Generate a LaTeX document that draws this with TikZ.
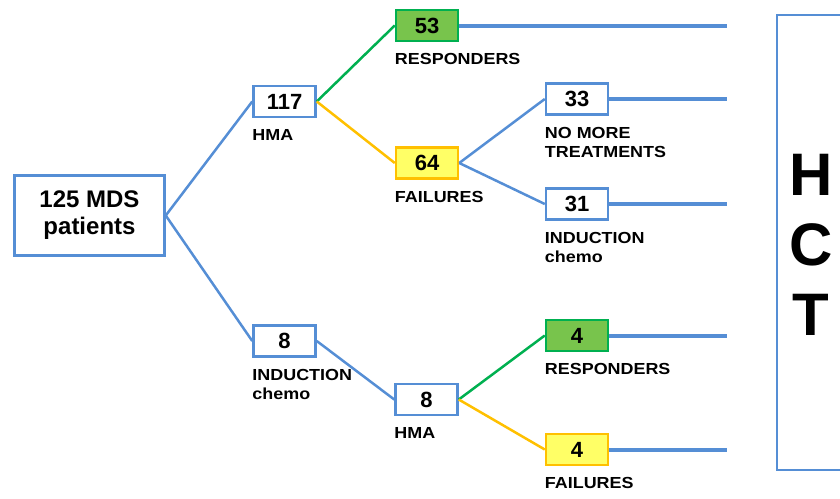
\documentclass[tikz,border=0pt]{standalone}
\usepackage{fontspec}
\setmainfont{Liberation Sans}
\newfontfamily\tagfont{Liberation Sans}[FakeStretch=1.12]
\usetikzlibrary{positioning}

\definecolor{lineblue}{RGB}{85,142,213}
\definecolor{hmagreen}{RGB}{0,176,80}
\definecolor{respgreen}{RGB}{120,196,76}
\definecolor{failyellow}{RGB}{255,255,102}
\definecolor{failorange}{RGB}{255,192,0}

\begin{document}
\begin{tikzpicture}
        [
            x = 1pt, y = -1pt,
            boxed/.style    = {shape=rectangle, draw=lineblue, line width=2.5pt, fill=white,
                               minimum width=62pt, minimum height=31pt, inner sep=0pt,
                               font=\bfseries\fontsize{22}{24}\selectfont},
            mainbox/.style  = {boxed, minimum width=150pt, minimum height=80pt, align=center,
                               font=\bfseries\fontsize{24}{27}\selectfont},
            good/.style     = {boxed, draw=hmagreen, fill=respgreen},
            bad/.style      = {boxed, draw=failorange, fill=failyellow},
            tag/.style      = {anchor=north west, inner sep=0pt, align=left,
                               font=\tagfont\bfseries\fontsize{16}{19}\selectfont},
            trunk/.style    = {draw=lineblue, line width=2.5pt},
            tohct/.style    = {draw=lineblue, line width=4pt},
            yes/.style      = {draw=hmagreen, line width=2.5pt},
            no/.style       = {draw=failorange, line width=2.5pt},
            ]
            \useasboundingbox (0,0) rectangle (840,498);

            % boxes
            \node [mainbox] (mds)    at (89.5,215.5) {125 MDS\\patients};
            \node [boxed]   (hma)    at (284.5,101.5) {117};
            \node [good]    (resp)   at (427,25.5) {53};
            \node [bad]     (fail)   at (427,163) {64};
            \node [boxed]   (nomore) at (577,99) {33};
            \node [boxed]   (induct) at (577,204) {31};
            \node [boxed]   (chemo)  at (284.5,341) {8};
            \node [boxed]   (hmb)    at (426.5,399.5) {8};
            \node [good]    (respb)  at (577,335.5) {4};
            \node [bad]     (failb)  at (577,449.5) {4};

            % labels under the boxes
            \node [tag] (hmatag)    at ([yshift=-11pt]hma.south west) {HMA};
            \node [tag] (resptag)   at ([yshift=-11pt]resp.south west) {RESPONDERS};
            \node [tag] (failtag)   at ([yshift=-11pt]fail.south west) {FAILURES};
            \node [tag] (nomoretag) at ([yshift=-11pt]nomore.south west) {NO MORE\\TREATMENTS};
            \node [tag] (inducttag) at ([yshift=-11pt]induct.south west) {INDUCTION\\chemo};
            \node [tag] (chemotag)  at ([yshift=-11pt]chemo.south west) {INDUCTION\\chemo};
            \node [tag] (hmbtag)    at ([yshift=-11pt]hmb.south west) {HMA};
            \node [tag] (resbtag)   at ([yshift=-11pt]respb.south west) {RESPONDERS};
            \node [tag] (failbtag)  at ([yshift=-11pt]failb.south west) {FAILURES};

            % HCT
            \draw [draw=lineblue, line width=2.5pt] (840,15) -- (777,15) -- (777,470) -- (840,470);
            \node [font=\bfseries\fontsize{60}{70}\selectfont, align=center] (hct) at (811,245) {H\\C\\T};

            \coordinate (e1) at (727,25.5);
            \coordinate (e2) at (727,99);
            \coordinate (e3) at (727,204);
            \coordinate (e4) at (727,335.5);
            \coordinate (e5) at (727,449.5);

            % connectors
            \draw [trunk] (mds.east) -- (hma.west);
            \draw [trunk] (mds.east) -- (chemo.west);
            \draw [yes] (hma.east) -- (resp.west);
            \draw [no]  (hma.east) -- (fail.west);
            \draw [trunk] (fail.east) -- (nomore.west);
            \draw [trunk] (fail.east) -- (induct.west);
            \draw [trunk] (chemo.east) -- (hmb.west);
            \draw [yes] (hmb.east) -- (respb.west);
            \draw [no]  (hmb.east) -- (failb.west);
            \draw [tohct] (resp.east) -- (e1);
            \draw [tohct] (nomore.east) -- (e2);
            \draw [tohct] (induct.east) -- (e3);
            \draw [tohct] (respb.east) -- (e4);
            \draw [tohct] (failb.east) -- (e5);
        \end{tikzpicture}
\end{document}
